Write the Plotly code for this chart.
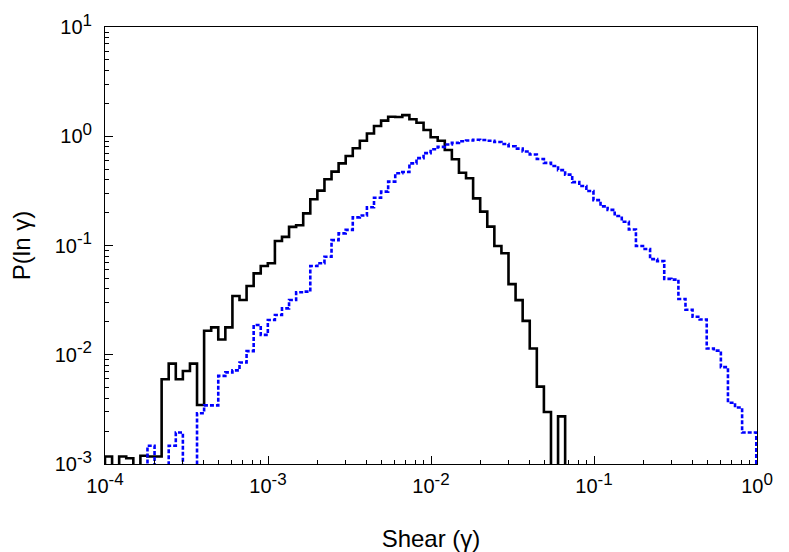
import numpy as np
import plotly.graph_objects as go

# Histogram definition: bins of width 0.1 in ln(gamma), starting at gamma = 1e-4
LN_START = np.log(1e-4)
LN_WIDTH = 0.1
N_BINS = 92

# P(ln gamma) per bin, solid black series (0 = empty bin)
black_vals = [
    1.17e-3, 0, 1.17e-3, 1.13e-3, 0, 1.19e-3, 1.17e-3, 1.17e-3,
    5.96e-3, 8.3e-3, 5.96e-3, 7.1e-3, 8.3e-3, 3.47e-3,
    0.0166, 0.0178, 0.0138, 0.0178, 0.0345, 0.0317, 0.0426, 0.0556,
    0.0649, 0.0687, 0.110, 0.120, 0.148, 0.153, 0.197, 0.265,
    0.318, 0.404, 0.474, 0.565, 0.659, 0.776, 0.91, 1.06,
    1.24, 1.39, 1.51, 1.50, 1.56, 1.43, 1.33, 1.14,
    0.98, 0.91, 0.748, 0.615, 0.464, 0.412, 0.27, 0.204,
    0.149, 0.099, 0.085, 0.0443, 0.0316, 0.0204, 0.0114, 0.00511,
    0.00299, 0, 0.00273,
] + [0] * 27

# P(ln gamma) per bin, dotted blue series
blue_vals = [0, 0, 0, 0, 0, 0,
    1.47e-3, 0, 0, 1.47e-3, 1.94e-3, 0, 0, 2.91e-3,
    3.44e-3, 3.44e-3, 6.4e-3, 6.9e-3, 7.2e-3, 8.5e-3, 0.0108, 0.0187,
    0.0152, 0.0208, 0.0231, 0.0266, 0.0317, 0.0373, 0.0378, 0.0649,
    0.0687, 0.079, 0.112, 0.129, 0.139, 0.181, 0.188, 0.224,
    0.274, 0.311, 0.384, 0.458, 0.47, 0.565, 0.63, 0.70,
    0.76, 0.80, 0.84, 0.87, 0.90, 0.915, 0.93, 0.925,
    0.91, 0.885, 0.85, 0.81, 0.77, 0.725, 0.68, 0.62,
    0.57, 0.535, 0.49, 0.445, 0.38, 0.35, 0.315, 0.26,
    0.228, 0.212, 0.186, 0.165, 0.14, 0.099, 0.093, 0.075,
    0.072, 0.0495, 0.0487, 0.0324, 0.0258, 0.0223, 0.021, 0.0114,
    0.0109, 0.0077, 0.00364, 0.00329, 0.00194, 0.00194,
]

x_tick_vals = [1e-4, 1e-3, 1e-2, 1e-1, 1e0]
x_exponents = ["-4", "-3", "-2", "-1", "0"]
y_tick_vals = [1e-3, 1e-2, 1e-1, 1e0, 1e1]
y_exponents = ["-3", "-2", "-1", "0", "1"]


def power_label(exp):
    return '10<sup><span style="font-size:17px">' + exp + '</span></sup>'


edges = np.exp(LN_START + LN_WIDTH * np.arange(N_BINS + 1))
FLOOR = 1e-7  # empty bins are drawn below the visible range


def step_xy(vals):
    v = [p if p > 0 else FLOOR for p in vals]
    xs = [edges[0]] + list(edges[:-1]) + [edges[-1]]
    ys = [FLOOR] + v + [FLOOR]
    return xs, ys


def minor_vals(lo, hi):
    out = []
    for e in range(lo, hi):
        for m in range(2, 10):
            out.append(m * 10.0 ** e)
    return out


fig = go.Figure()
bx, by = step_xy(black_vals)
fig.add_trace(go.Scatter(x=bx, y=by, mode="lines", line_shape="hv",
                         line=dict(color="black", width=2.6), showlegend=False))
ux, uy = step_xy(blue_vals)
fig.add_trace(go.Scatter(x=ux, y=uy, mode="lines", line_shape="hv",
                         line=dict(color="rgb(0,0,255)", width=2.6, dash="4px,2px"),
                         showlegend=False))

font_family = "Liberation Sans, Arial, Helvetica, sans-serif"
axis_common = dict(
    type="log", showline=True, linecolor="black", linewidth=1, mirror=True,
    ticks="inside", ticklen=8, tickwidth=1, tickcolor="black",
    showgrid=False, zeroline=False, tickmode="array", automargin=False,
    tickfont=dict(family=font_family, size=20, color="black"),
)

fig.update_layout(
    width=781, height=544,
    margin=dict(l=97, r=32, t=19, b=88),
    paper_bgcolor="white", plot_bgcolor="white",
    font=dict(family=font_family, color="black"),
    xaxis=dict(axis_common, range=[-4, 0], tickvals=x_tick_vals,
               ticktext=[power_label(e) for e in x_exponents], ticklabelstandoff=4,
               minor=dict(ticks="inside", ticklen=4, tickcolor="black",
                          tickvals=minor_vals(-4, 0), showgrid=False),
               title=dict(text="Shear (γ)", font=dict(size=24), standoff=34)),
    yaxis=dict(axis_common, range=[-3, 1], tickvals=y_tick_vals,
               ticktext=[power_label(e) for e in y_exponents], ticklabelstandoff=8,
               minor=dict(ticks="inside", ticklen=4, tickcolor="black",
                          tickvals=minor_vals(-3, 1), showgrid=False),
               title=dict(text="P(ln γ)", font=dict(size=24), standoff=44)),
)

fig.write_html("out.html")
